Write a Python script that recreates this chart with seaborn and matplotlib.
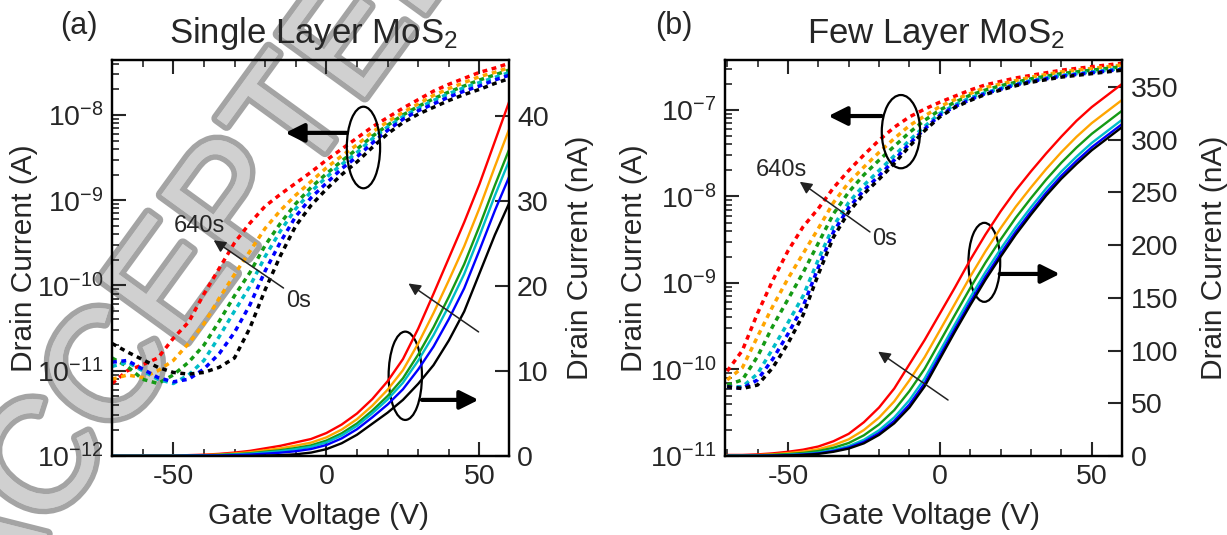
import numpy as np
import pandas as pd
import matplotlib
matplotlib.use("Agg")
import matplotlib.pyplot as plt
import matplotlib.ticker as mticker
import matplotlib.patheffects as pe
from matplotlib.patches import Ellipse
import seaborn as sns

# gate voltage grid (V), shared by every curve
gate_v = [-70, -65, -60, -55, -50, -45, -40, -35, -30, -25, -20, -15, -10, -5,
          0, 5, 10, 15, 20, 25, 30, 35, 40, 45, 50, 55, 60]

# illumination time, from last (red) to first (black)
time_labels = ["640s", "512s", "384s", "256s", "128s", "0s"]
line_colors = ["#ff0000", "#ffa500", "#159a15", "#00bcc8", "#0000ff", "#000000"]

# single layer: log10 of drain current (A), dotted curves
sl_log_id = [
    [-11.15, -11.0, -10.93, -10.85, -10.62, -10.43, -10.1, -9.8, -9.5, -9.27, -9.07, -8.93, -8.8, -8.67,
     -8.53, -8.4, -8.27, -8.14, -8.03, -7.92, -7.82, -7.72, -7.64, -7.57, -7.5, -7.45, -7.39],
    [-11.1, -11.05, -11.08, -11.0, -10.88, -10.68, -10.45, -10.15, -9.87, -9.6, -9.33, -9.12, -8.94, -8.78,
     -8.62, -8.48, -8.35, -8.2, -8.08, -7.97, -7.87, -7.77, -7.69, -7.62, -7.55, -7.5, -7.44],
    [-10.85, -10.95, -11.1, -11.15, -11.05, -10.9, -10.7, -10.42, -10.12, -9.85, -9.53, -9.27, -9.04, -8.85,
     -8.69, -8.54, -8.4, -8.25, -8.12, -8.0, -7.9, -7.81, -7.73, -7.66, -7.59, -7.53, -7.47],
    [-10.95, -10.9, -11.0, -11.1, -11.15, -11.05, -10.88, -10.6, -10.3, -10.01, -9.66, -9.36, -9.1, -8.9,
     -8.73, -8.58, -8.44, -8.28, -8.14, -8.02, -7.92, -7.83, -7.75, -7.68, -7.62, -7.56, -7.5],
    [-10.9, -10.88, -10.98, -11.08, -11.13, -11.1, -10.98, -10.8, -10.55, -10.23, -9.83, -9.49, -9.19, -8.97,
     -8.8, -8.63, -8.49, -8.33, -8.18, -8.05, -7.95, -7.87, -7.79, -7.72, -7.66, -7.59, -7.53],
    [-10.68, -10.78, -10.87, -10.96, -11.02, -11.04, -11.02, -10.96, -10.85, -10.5, -10.05, -9.65, -9.3, -9.06,
     -8.87, -8.7, -8.55, -8.38, -8.22, -8.09, -7.99, -7.91, -7.83, -7.76, -7.7, -7.63, -7.57],
]

# single layer: drain current (nA), solid curves
sl_id_na = [
    [0.05, 0.05, 0.05, 0.05, 0.05, 0.1, 0.15, 0.25, 0.4, 0.6, 0.9, 1.2, 1.6, 2.0,
     2.7, 3.7, 5.0, 6.7, 8.8, 11.4, 15.0, 19.1, 23.3, 27.5, 32.0, 37.0, 42.0],
    [0.04, 0.04, 0.04, 0.04, 0.04, 0.07, 0.11, 0.18, 0.29, 0.44, 0.67, 0.9, 1.22, 1.57,
     2.19, 3.11, 4.33, 5.92, 7.8, 10.1, 13.25, 16.83, 20.68, 24.67, 29.17, 34.03, 38.76],
    [0.03, 0.03, 0.03, 0.03, 0.03, 0.05, 0.08, 0.13, 0.21, 0.32, 0.5, 0.68, 0.94, 1.25,
     1.81, 2.67, 3.83, 5.34, 7.06, 9.14, 11.95, 15.15, 18.74, 22.57, 27.07, 31.83, 36.36],
    [0.02, 0.02, 0.02, 0.02, 0.02, 0.04, 0.06, 0.1, 0.17, 0.25, 0.41, 0.56, 0.79, 1.07,
     1.6, 2.42, 3.55, 5.02, 6.65, 8.62, 11.23, 14.23, 17.67, 21.41, 25.91, 30.62, 35.04],
    [0.01, 0.01, 0.01, 0.01, 0.01, 0.03, 0.04, 0.06, 0.1, 0.16, 0.27, 0.39, 0.56, 0.82,
     1.29, 2.07, 3.15, 4.55, 6.06, 7.85, 10.19, 12.88, 16.12, 19.73, 24.23, 28.86, 33.12],
    [0, 0, 0, 0, 0, 0, 0, 0, 0, 0, 0.05, 0.1, 0.2, 0.4,
     0.8, 1.5, 2.5, 3.8, 5.1, 6.6, 8.5, 10.7, 13.6, 17.0, 21.5, 26.0, 30.0],
]

# few layer: log10 of drain current (A), dotted curves
fl_log_id = [
    [-10.02, -9.78, -9.35, -8.97, -8.63, -8.35, -8.14, -7.9, -7.7, -7.52, -7.35, -7.2, -7.08, -6.99,
     -6.91, -6.84, -6.77, -6.71, -6.67, -6.63, -6.6, -6.57, -6.54, -6.52, -6.5, -6.48, -6.46],
    [-10.12, -9.98, -9.62, -9.27, -8.95, -8.66, -8.37, -8.07, -7.84, -7.66, -7.49, -7.33, -7.18, -7.07,
     -6.96, -6.88, -6.81, -6.74, -6.7, -6.66, -6.62, -6.59, -6.56, -6.54, -6.52, -6.5, -6.48],
    [-10.18, -10.12, -9.85, -9.5, -9.19, -8.88, -8.54, -8.2, -7.95, -7.75, -7.58, -7.42, -7.26, -7.12,
     -7.0, -6.91, -6.83, -6.77, -6.72, -6.68, -6.64, -6.61, -6.58, -6.56, -6.54, -6.52, -6.5],
    [-10.2, -10.2, -10.05, -9.76, -9.46, -9.15, -8.73, -8.34, -8.07, -7.87, -7.7, -7.53, -7.35, -7.19,
     -7.04, -6.94, -6.86, -6.8, -6.75, -6.7, -6.66, -6.63, -6.6, -6.58, -6.56, -6.54, -6.52],
    [-10.2, -10.22, -10.12, -9.88, -9.59, -9.27, -8.82, -8.41, -8.13, -7.93, -7.76, -7.58, -7.39, -7.22,
     -7.06, -6.96, -6.88, -6.81, -6.76, -6.71, -6.67, -6.64, -6.61, -6.59, -6.57, -6.55, -6.53],
    [-10.2, -10.22, -10.18, -9.98, -9.7, -9.37, -8.9, -8.47, -8.18, -7.97, -7.8, -7.62, -7.42, -7.24,
     -7.08, -6.97, -6.89, -6.82, -6.77, -6.72, -6.68, -6.65, -6.62, -6.6, -6.58, -6.56, -6.54],
]

# few layer: drain current (nA), solid curves
fl_id_na = [
    [1, 1, 1.5, 2.5, 4, 6, 9, 14, 21, 32, 46, 64, 87, 110,
     135, 160, 186, 210, 232, 252, 270, 287, 303, 318, 331, 342, 353],
    [0.6, 0.6, 0.9, 1.6, 2.7, 4.2, 6.4, 10.3, 15.8, 24.6, 36.4, 51.8, 71.8, 93.7,
     119.1, 144.5, 170.1, 194.1, 216.1, 236.5, 254.8, 272.2, 288.2, 302.8, 315.8, 326.8, 337.8],
    [0.4, 0.4, 0.6, 1.1, 1.8, 2.9, 4.7, 7.8, 12.3, 19.6, 29.9, 43.5, 61.6, 82.7,
     108.3, 134.0, 159.3, 183.3, 205.3, 226.0, 244.6, 262.2, 278.2, 292.6, 305.6, 316.6, 327.6],
    [0.2, 0.2, 0.3, 0.6, 1.1, 1.9, 3.2, 5.7, 9.4, 15.4, 24.4, 36.6, 53.0, 73.5,
     99.3, 125.1, 150.3, 174.3, 196.3, 217.1, 236.0, 253.8, 269.8, 284.0, 297.0, 308.0, 319.0],
    [0.1, 0.1, 0.1, 0.4, 0.7, 1.4, 2.5, 4.7, 8.0, 13.4, 21.8, 33.3, 48.9, 69.1,
     95.0, 120.9, 146.0, 170.0, 192.0, 212.9, 231.9, 249.8, 265.8, 279.9, 292.9, 303.9, 314.9],
    [0, 0, 0, 0.2, 0.5, 1, 2, 4, 7, 12, 20, 31, 46, 66,
     92, 118, 143, 167, 189, 210, 229, 247, 263, 277, 290, 301, 312],
]


def long_table(curves, from_log=False):
    rows = []
    for lab, vals in zip(time_labels, curves):
        for v, y in zip(gate_v, vals):
            rows.append((lab, v, 10.0 ** y if from_log else y))
    return pd.DataFrame(rows, columns=["time", "vg", "id"])


def style_axes(ax, ax2, xlim, log_lim, lin_lim, lin_step):
    ax.set_yscale("log")
    ax.set_xlim(*xlim)
    ax.set_ylim(*log_lim)
    ax2.set_ylim(*lin_lim)
    ax.xaxis.set_major_locator(mticker.MultipleLocator(50))
    ax.xaxis.set_minor_locator(mticker.MultipleLocator(10))
    ax.yaxis.set_major_locator(mticker.LogLocator(base=10, numticks=20))
    ax.yaxis.set_minor_locator(mticker.LogLocator(base=10, subs=np.arange(2, 10), numticks=20))
    ax.yaxis.set_minor_formatter(mticker.NullFormatter())
    ax2.yaxis.set_major_locator(mticker.MultipleLocator(lin_step))
    ax.tick_params(which="both", direction="in", labelsize=20.5, top=True, bottom=True,
                   left=True, right=False)
    ax.tick_params(which="major", length=10, width=1.5, pad=6)
    ax.tick_params(which="minor", length=5, width=1.2)
    ax2.tick_params(axis="y", which="both", direction="in", labelsize=20.5, length=10,
                    width=1.5, pad=6, right=True, left=False)
    for a in (ax, ax2):
        a.set_facecolor("none")
        for sp in a.spines.values():
            sp.set_linewidth(1.6)
            sp.set_color("black")
    ax.set_xlabel("Gate Voltage (V)", fontsize=21.5)
    ax.set_ylabel("Drain Current (A)", fontsize=21.5)
    ax2.set_ylabel("Drain Current (nA)", fontsize=21.5)


def draw_curves(ax, ax2, log_curves, lin_curves):
    sns.lineplot(data=long_table(log_curves, from_log=True), x="vg", y="id", hue="time",
                 hue_order=time_labels, palette=line_colors, legend=False, ax=ax,
                 linewidth=2.5, linestyle=(0, (1.4, 1.3)), estimator=None)
    sns.lineplot(data=long_table(lin_curves), x="vg", y="id", hue="time",
                 hue_order=time_labels, palette=line_colors, legend=False, ax=ax2,
                 linewidth=1.7, estimator=None)


def thick_arrow(ax, tail, head):
    ax.annotate("", xy=head, xytext=tail,
                arrowprops=dict(arrowstyle="-|>", lw=3, color="black",
                                mutation_scale=28, shrinkA=0, shrinkB=0))


def thin_arrow(ax, tail, head):
    ax.annotate("", xy=head, xytext=tail,
                arrowprops=dict(arrowstyle="-|>", lw=1.1, color="#222222",
                                mutation_scale=18, shrinkA=0, shrinkB=0))


sns.set_style("ticks")
plt.rcParams["font.family"] = ["Liberation Sans", "DejaVu Sans"]
plt.rcParams["mathtext.fontset"] = "custom"
plt.rcParams["mathtext.rm"] = "Liberation Sans"
plt.rcParams["mathtext.it"] = "Liberation Sans:italic"
plt.rcParams["mathtext.bf"] = "Liberation Sans:bold"
plt.rcParams["axes.unicode_minus"] = False

fig = plt.figure(figsize=(12.27, 5.35), dpi=100, facecolor="white")
ax_a = fig.add_axes([0.0913, 0.1477, 0.3232, 0.7402])
ax_b = fig.add_axes([0.5909, 0.1477, 0.3236, 0.7402])
ax_a.set_yscale("log")
ax_b.set_yscale("log")
ax_a2 = ax_a.twinx()
ax_b2 = ax_b.twinx()

# (a) single layer
draw_curves(ax_a, ax_a2, sl_log_id, sl_id_na)
style_axes(ax_a, ax_a2, (-70, 59.5), (1e-12, 10 ** -7.355), (0, 46.6), 10)
ax_a.xaxis.set_label_coords(0.52, -0.115)
ax_a.yaxis.set_label_coords(-0.187, 0.5)
ax_a2.yaxis.set_label_coords(1.145, 0.5)

ax_a.add_patch(Ellipse((0.634, 0.779), 0.084, 0.206, transform=ax_a.transAxes,
                       fill=False, lw=1.6, ec="black", zorder=5))
ax_a.add_patch(Ellipse((0.7395, 0.2025), 0.084, 0.223, transform=ax_a.transAxes,
                       fill=False, lw=1.6, ec="black", zorder=5))
thick_arrow(ax_a, (6.7, 10 ** -8.21), (-13.4, 10 ** -8.21))
thick_arrow(ax_a2, (31.2, 6.6), (49.7, 6.6))
thin_arrow(ax_a, (-14.0, 10 ** -10.03), (-36.8, 10 ** -9.47))
thin_arrow(ax_a2, (49.7, 14.6), (26.8, 20.3))
ax_a.text(-41.5, 10 ** -9.30, "640s", fontsize=17, ha="center", va="center")
ax_a.text(-9.1, 10 ** -10.18, "0s", fontsize=17, ha="center", va="center")

# (b) few layer
draw_curves(ax_b, ax_b2, fl_log_id, fl_id_na)
style_axes(ax_b, ax_b2, (-70.7, 60), (1e-11, 10 ** -6.422), (0, 375.7), 50)
ax_b.xaxis.set_label_coords(0.515, -0.115)
ax_b.yaxis.set_label_coords(-0.194, 0.5)
ax_b2.yaxis.set_label_coords(1.195, 0.5)

ax_b.add_patch(Ellipse((0.443, 0.819), 0.0965, 0.185, transform=ax_b.transAxes,
                       fill=False, lw=1.6, ec="black", zorder=5))
ax_b.add_patch(Ellipse((0.653, 0.489), 0.080, 0.1995, transform=ax_b.transAxes,
                       fill=False, lw=1.6, ec="black", zorder=5))
thick_arrow(ax_b, (-19.2, 10 ** -7.07), (-36.7, 10 ** -7.07))
thick_arrow(ax_b2, (19.7, 172.7), (39.5, 172.7))
thin_arrow(ax_b, (-23.0, 10 ** -8.41), (-46.1, 10 ** -7.83))
thin_arrow(ax_b2, (2.7, 53.1), (-20.3, 99.0))
ax_b.text(-52.1, 10 ** -7.69, "640s", fontsize=17, ha="center", va="center")
ax_b.text(-18.1, 10 ** -8.49, "0s", fontsize=17, ha="center", va="center")

# panel letters and titles
fig.text(79 / 1227, 1 - 26 / 535, "(a)", fontsize=22, ha="center", va="center")
fig.text(313 / 1227, 1 - 43 / 535, "Single Layer MoS$_2$", fontsize=25, ha="center", va="baseline")
fig.text(674 / 1227, 1 - 26 / 535, "(b)", fontsize=22, ha="center", va="center")
fig.text(936 / 1227, 1 - 43 / 535, "Few Layer MoS$_2$", fontsize=25, ha="center", va="baseline")

# journal watermark, drawn underneath the axes
fig.text(0.165, 0.53, "ACCEPTED", rotation=54, rotation_mode="anchor", fontsize=112,
         color="#d0d0d0", ha="center", va="center", zorder=-1,
         path_effects=[pe.withStroke(linewidth=8, foreground="#a4a4a4"),
                       pe.Normal()])

fig.savefig("out.png", dpi=100)
